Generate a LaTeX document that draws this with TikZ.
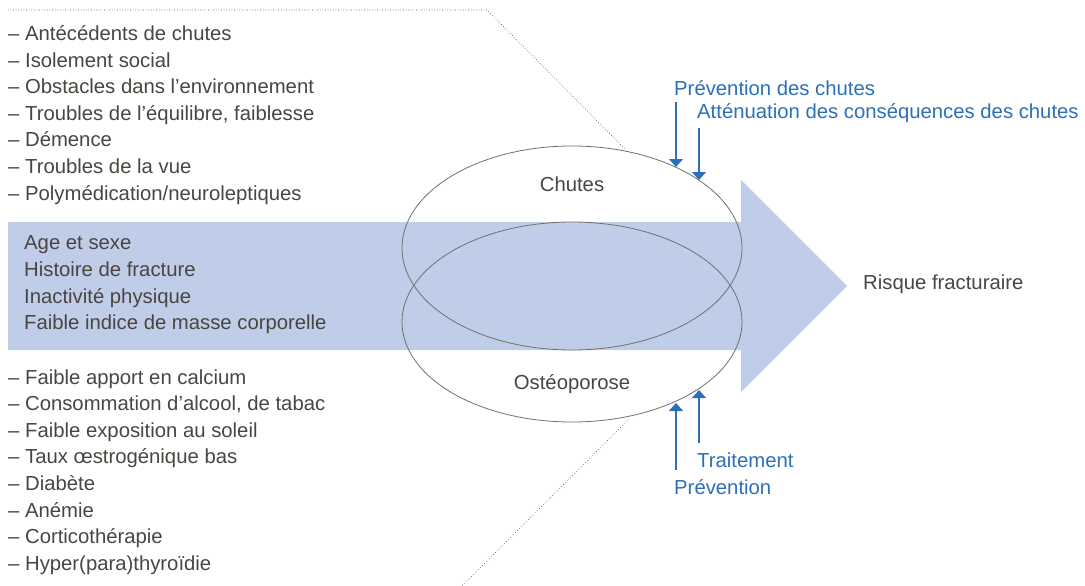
\documentclass[tikz,border=0pt]{standalone}
\usepackage{fontspec}
\setmainfont{Liberation Sans}
\usetikzlibrary{arrows.meta,shapes.geometric}
\definecolor{txt}{HTML}{4A4540}
\definecolor{blu}{HTML}{2B70B8}
\definecolor{arr}{HTML}{BFCDE8}
\definecolor{ell}{HTML}{707070}
\tikzset{
  lst/.style={anchor=west, inner sep=0pt, align=left, text=txt,
    font=\fontsize{20.3}{26.6}\selectfont},
  lbl/.style={anchor=west, inner sep=0pt, text=txt, font=\fontsize{20.3}{24}\selectfont},
  blbl/.style={anchor=west, inner sep=0pt, text=blu, font=\fontsize{20.3}{24}\selectfont},
  barrow/.style={draw=blu, line width=1.2pt, -{Triangle[width=14pt,length=8pt]}},
  circ/.style={ellipse, draw=ell, line width=0.8pt, inner sep=0pt},
  dots/.style={draw=black!75, dotted, line width=0.6pt}
}
\begin{document}
\begin{tikzpicture}[x=1pt,y=-1pt]
\useasboundingbox (0,0) rectangle (1085,586);
% big arrow
\fill[arr] (8,222) -- (741,222) -- (741,180) -- (847,286) -- (741,392) -- (741,350) -- (8,350) -- cycle;
% ellipses
\node[circ, minimum width=340pt, minimum height=204pt] (ch) at (572,248) {};
\node[circ, minimum width=340pt, minimum height=200pt] (os) at (572,322) {};
\node[lbl, anchor=center] (chl) at (572,184) {Chutes};
\node[lbl, anchor=center] (osl) at (572,384) {Ostéoporose};
% dotted lines
\coordinate (d0) at (8,10);
\coordinate (d1) at (487,10);
\coordinate (d2) at (628,152);
\coordinate (d3) at (628,420);
\coordinate (d4) at (462,586);
\draw[dots] (d0) -- (d1) -- (d2);
\draw[dots] (d3) -- (d4);
% lists
\node[lst] (top) at (8,115) {– Antécédents de chutes\\
– Isolement social\\
– Obstacles dans l’environnement\\
– Troubles de l’équilibre, faiblesse\\
– Démence\\
– Troubles de la vue\\
– Polymédication/neuroleptiques};
\node[lst] (mid) at (24,285) {Age et sexe\\
Histoire de fracture\\
Inactivité physique\\
Faible indice de masse corporelle};
\node[lst] (bot) at (8,472) {– Faible apport en calcium\\
– Consommation d’alcool, de tabac\\
– Faible exposition au soleil\\
– Taux œstrogénique bas\\
– Diabète\\
– Anémie\\
– Corticothérapie\\
– Hyper(para)thyroïdie};
\node[lbl] (risk) at (863,284) {Risque fracturaire};
% blue labels
\node[blbl] (pc) at (674,88) {Prévention des chutes};
\node[blbl] (at) at (697,113) {Atténuation des conséquences des chutes};
\node[blbl] (tr) at (697,460) {Traitement};
\node[blbl] (pv) at (674,487) {Prévention};
% arrow targets
\coordinate (t1) at (676,167);
\coordinate (t2) at (699,180);
\coordinate (b1) at (676,403);
\coordinate (b2) at (699,390);
\coordinate (s1) at (676,102);
\coordinate (s2) at (699,128);
\coordinate (u1) at (676,470);
\coordinate (u2) at (699,443);
\draw[barrow] (s1) -- (t1);
\draw[barrow] (s2) -- (t2);
\draw[barrow] (u1) -- (b1);
\draw[barrow] (u2) -- (b2);
\end{tikzpicture}
\end{document}
